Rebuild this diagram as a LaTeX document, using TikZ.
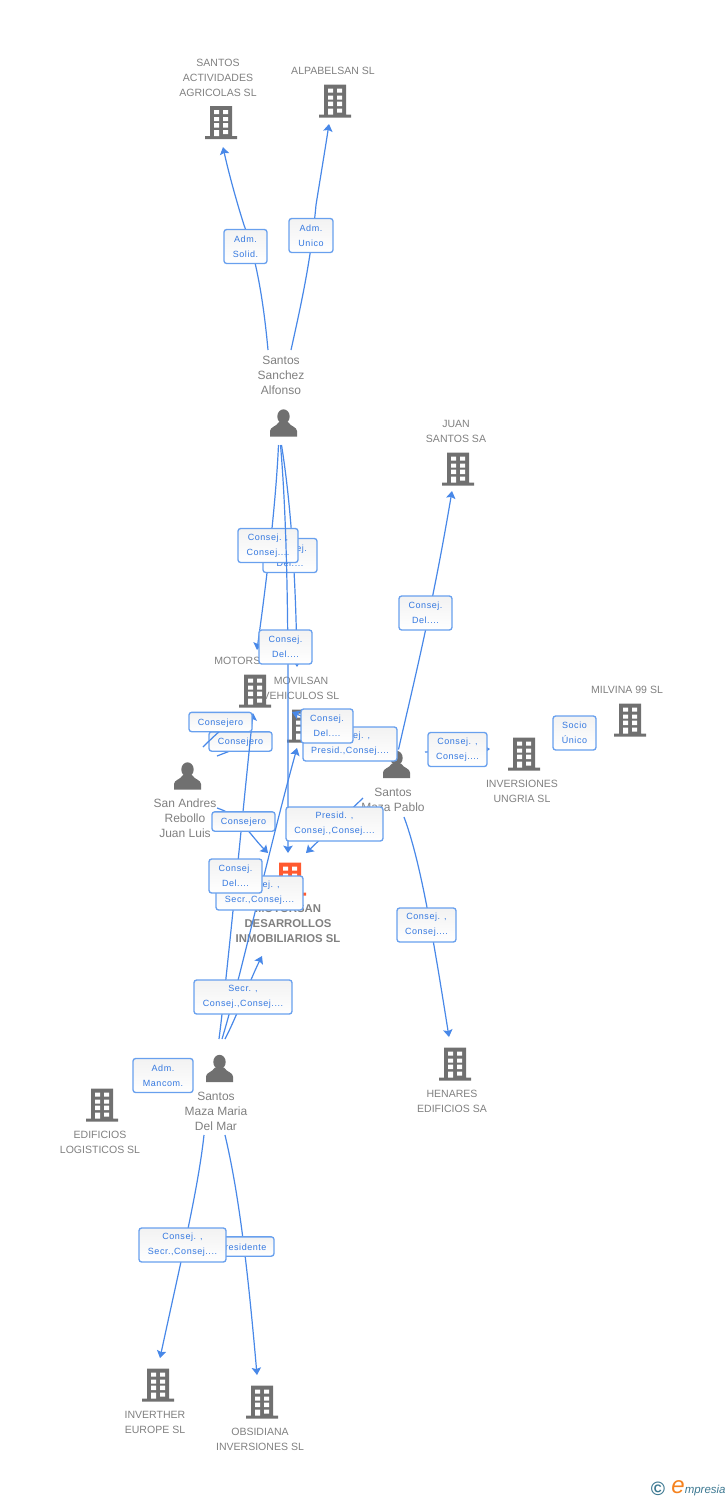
\documentclass[tikz,border=0pt]{standalone}
\usepackage{fontspec}
\usepackage{xcolor}
\usetikzlibrary{calc,arrows.meta}
\setmainfont{Liberation Sans}
\newfontfamily\boxfont[LetterSpace=6]{Liberation Sans}
\definecolor{iconclr}{RGB}{112, 112, 112}
\definecolor{hubclr}{RGB}{255, 90, 48}
\definecolor{txtclr}{RGB}{128, 128, 128}
\definecolor{linkclr}{RGB}{72, 136, 232}
\definecolor{edgeclr}{RGB}{104, 160, 238}
\definecolor{boxtxt}{RGB}{52, 120, 224}
\definecolor{logoblue}{RGB}{60, 120, 145}
\definecolor{logoorange}{RGB}{245, 130, 30}
\tikzset{
  bldg/.pic={
    \fill[#1] (-11,-16.5) rectangle (11,14) (-16,13.5) rectangle (16,16.5);
    \fill[white] (-7,-12.5) rectangle (-2,-8.5) (2,-12.5) rectangle (7,-8.5)
      (-7,-5.5) rectangle (-2,-1.5) (2,-5.5) rectangle (7,-1.5)
      (-7,0.5) rectangle (-2,5) (2,0.5) rectangle (7,5)
      (-7,7.5) rectangle (-2,13.5) (2,7.5) rectangle (7,11.5);
  },
  person/.pic={
    \fill[iconclr] (0,-6.5) ellipse (6.2 and 7.2);
    \fill[iconclr] (-13.5,13.5) -- (-13.5,8) .. controls (-13.5,4) and (-7,3.5) .. (-4.5,-1)
      -- (4.5,-1) .. controls (7,3.5) and (13.5,4) .. (13.5,8) -- (13.5,13.5) -- cycle;
  },
  iconnode/.style={inner sep=0pt, minimum size=24pt},
  complbl/.style={text=txtclr, align=center, inner sep=0pt, yshift=-0.6pt, font=\fontsize{7.9}{11.25}\selectfont},
  perslbl/.style={text=txtclr, align=center, inner sep=0pt, font=\fontsize{9}{11.25}\selectfont},
  hublbl/.style={text=txtclr, align=center, inner sep=0pt, font=\bfseries\fontsize{8.5}{11.25}\selectfont},
  link/.style={draw=linkclr, line width=0.9pt, -{Stealth[length=5.5pt, width=7pt, inset=1pt]}},
  stub/.style={draw=linkclr, line width=0.9pt},
  linkbox/.style={draw=edgeclr, line width=1pt, rounded corners=2pt, top color=gray!10, bottom color=white,
    text=boxtxt, align=center, inner sep=0pt, minimum width=#1*0.75pt, minimum height=25.5pt,
    execute at begin node={\rule{0pt}{6.4pt}},
    font=\boxfont\fontsize{6.75}{11.25}\selectfont},
  onebox/.style={linkbox=#1, minimum height=14.5pt}
}

\begin{document}
\begin{tikzpicture}[x=0.75pt, y=-0.75pt]
  \useasboundingbox (0,0) rectangle (728,1500);

  % Company and person names
  \node[complbl] (actlbl) at (218,77) {SANTOS\\ACTIVIDADES\\AGRICOLAS SL};
  \node[complbl] (alpalbl) at (333,70) {ALPABELSAN SL};
  \node[complbl] (juanlbl) at (456,431) {JUAN\\SANTOS SA};
  \node[perslbl] (sanchezlbl) at (281,375) {Santos\\Sanchez\\Alfonso};
  \node[complbl, anchor=west] (motorslbl) at (214,660) {MOTORS};
  \node[complbl] (movilbl) at (301,688) {MOVILSAN\\VEHICULOS SL};
  \node[complbl] (milvlbl) at (627,689) {MILVINA 99 SL};
  \node[complbl] (ungrialbl) at (522,791) {INVERSIONES\\UNGRIA SL};
  \node[perslbl] (andreslbl) at (185,818) {San Andres\\Rebollo\\Juan Luis};
  \node[perslbl] (pablolbl) at (393,800) {Santos\\Maza Pablo};
  \node[hublbl] (hublbl) at (288,923.7) {MOTORSAN\\DESARROLLOS\\INMOBILIARIOS SL};
  \node[perslbl] (marialbl) at (216,1111) {Santos\\Maza Maria\\Del Mar};
  \node[complbl] (edifilbl) at (100,1142) {EDIFICIOS\\LOGISTICOS SL};
  \node[complbl] (henarlbl) at (452,1101) {HENARES\\EDIFICIOS SA};
  \node[complbl] (inverlbl) at (155,1422) {INVERTHER\\EUROPE SL};
  \node[complbl] (obsilbl) at (260,1439) {OBSIDIANA\\INVERSIONES SL};

  % Icons
  \foreach \nm/\pos in {act/{221,122.5}, alpa/{335,101}, juan/{458,469}, motors/{255,691},
      movil/{303,726}, ungria/{524,754}, milv/{630,720}, henar/{455,1064},
      edifi/{102,1105}, inver/{158,1385}, obsi/{262,1402}} {
    \node[iconnode] (\nm) at (\pos) {};
    \pic at (\nm) {bldg=iconclr};
  }
  \node[iconnode] (hub) at (290,879) {};
  \pic at (hub) {bldg=hubclr};
  \foreach \nm/\pos in {sanchez/{283.5,423}, andres/{187.5,776}, pablo/{396.5,764.5}, maria/{219.5,1068.5}} {
    \node[iconnode] (\nm) at (\pos) {};
    \pic at (\nm) {person};
  }

  % Santos Sanchez Alfonso
  \draw[link] ($(sanchezlbl)+(-13,-25)$) .. controls (263,295) and (255,255) .. (244,225)
    .. controls (236,200) and (228,170) .. ($(act)+(2,24.5)$);
  \node[linkbox=43] (l1) at (245.5,246.5) {Adm.\\Solid.};
  \draw[link] ($(sanchezlbl)+(10,-25)$) .. controls (301,305) and (311,260) .. (316,205)
    .. controls (320,180) and (325,150) .. ($(alpa)+(-6,23)$);
  \node[linkbox=44] (l2) at (311,235.5) {Adm.\\Unico};
  \draw[link] ($(sanchez)+(-5,22)$) .. controls (276,500) and (268,570) .. ($(motors)+(2,-41)$);
  \draw[link] ($(sanchez)+(-2,22)$) .. controls (292,510) and (296,590) .. ($(movil)+(-6,-59)$);
  \node[linkbox=54] (l3) at (290,555.5) {Consej.\\Del....};
  \node[linkbox=60] (l4) at (268,545.5) {Consej. ,\\Consej....};
  \draw[link] ($(sanchez)+(-3,22)$) .. controls (287,520) and (288,620) .. (288,700) -- ($(hub)+(-2,-26)$);
  \node[linkbox=53] (l5) at (285.5,647) {Consej.\\Del....};

  % Santos Maza Pablo
  \draw[link] ($(pablo)+(2,-15)$) .. controls (412,690) and (432,610) .. ($(juan)+(-6,22)$);
  \node[linkbox=53] (l6) at (425.5,613) {Consej.\\Del....};
  \draw[link] ($(pablo)+(-6,-9)$) -- ($(movil)+(-11,-14)$);
  \node[linkbox=94] (l7) at (350,744) {Consej. ,\\Presid.,Consej....};
  \node[linkbox=52] (l21) at (327,726) {Consej.\\Del....};
  \draw[link] ($(pablolbl)+(-30,-2)$) -- ($(hub)+(16,-26)$);
  \node[linkbox=97] (l8) at (334.5,824) {Presid. ,\\Consej.,Consej....};
  \draw[link] (425,752) -- ($(ungria)+(-34,-5)$);
  \node[linkbox=59] (l9) at (457.5,749.5) {Consej. ,\\Consej....};
  \node[linkbox=43] (l10) at (574.5,733) {Socio\\Único};
  \draw[link] ($(pablolbl)+(11,17)$) .. controls (420,860) and (432,930) .. ($(henar)+(-6,-27)$);
  \node[linkbox=59] (l11) at (426.5,925) {Consej. ,\\Consej....};

  % San Andres Rebollo Juan Luis
  \draw[stub] ($(andres)+(29.5,-20)$) -- ($(andres)+(58,-31)$);
  \node[onebox=63] (l12) at (240.5,741.5) {Consejero};
  \draw[stub] ($(andres)+(15.5,-29)$) .. controls (225,725) and (235,718) .. ($(motors)+(-6,24)$);
  \draw[link] ($(andreslbl)+(32,-10)$) .. controls (240,815) and (250,835) .. ($(hub)+(-22,-26)$);

  % Santos Maza Maria Del Mar
  \draw[link] ($(maria)+(-0.5,-29.5)$) .. controls (226,985) and (240,840) .. ($(motors)+(-2,22)$);
  \node[onebox=63] (l13) at (220.5,722) {Consejero};
  \node[onebox=63] (l14) at (243.5,821.5) {Consejero};
  \draw[link] ($(maria)+(2.5,-29.5)$) .. controls (240,980) and (270,845) .. ($(movil)+(-6,22)$);
  \node[linkbox=87] (l15) at (259.5,893) {Consej. ,\\Secr.,Consej....};
  \node[linkbox=53] (l16) at (235.5,876) {Consej.\\Del....};
  \draw[link] ($(maria)+(5.5,-29.5)$) .. controls (237,1016) and (250,980) .. ($(hub)+(-28,77)$);
  \node[linkbox=98] (l17) at (243,997) {Secr. ,\\Consej.,Consej....};
  \node[linkbox=60] (l18) at (163,1075.5) {Adm.\\Mancom.};
  \draw[link] ($(maria)+(5.5,66.5)$) .. controls (238,1190) and (247,1260) .. ($(obsi)+(-5,-27)$);
  \node[onebox=63] (l19) at (242.5,1246.5) {Presidente};
  \draw[link] ($(maria)+(-15.5,66.5)$) .. controls (198,1190) and (180,1265) .. ($(inver)+(2,-27)$);
  \node[linkbox=87] (l20) at (182.5,1245) {Consej. ,\\Secr.,Consej....};

  % Logo
  \node[inner sep=0pt, text=logoblue, font=\bfseries\fontsize{14.5}{14.5}\selectfont] (logoc) at (658,1489) {\textcopyright};
  \node[inner sep=0pt, text=logoorange, font=\itshape\fontsize{18}{18}\selectfont] (logoe) at (678,1487) {e};
  \node[inner sep=0pt, anchor=base west, text=logoblue, font=\itshape\fontsize{8.6}{10}\selectfont] (logot) at (684.5,1493) {mpresia};
\end{tikzpicture}
\end{document}
